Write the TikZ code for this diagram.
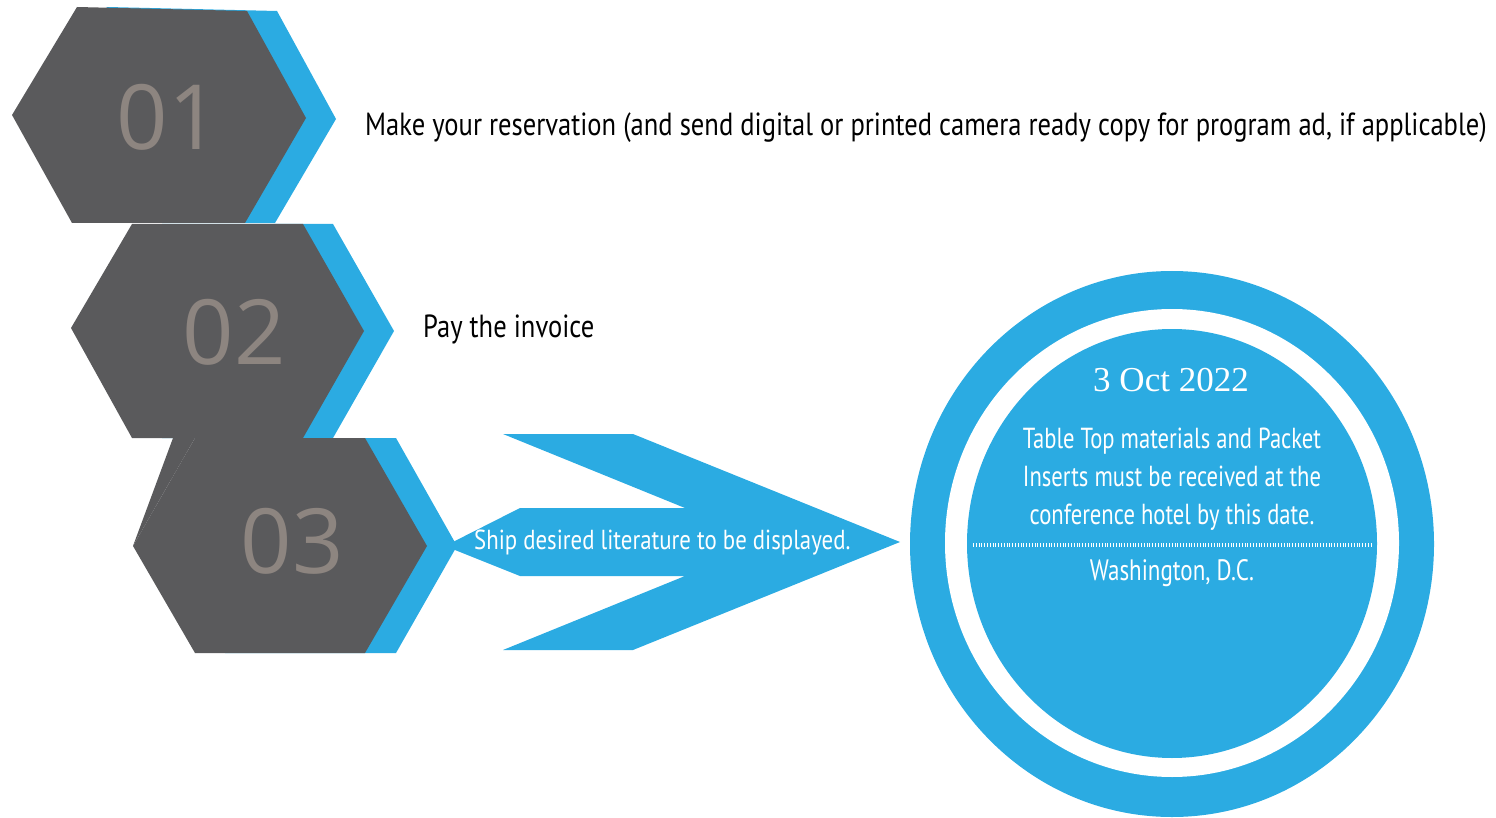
\documentclass[tikz,border=0pt]{standalone}
\usepackage{fontspec}
\setmainfont{PT Sans}
\newfontfamily\cond{PT Sans}[FakeStretch=0.83]
\newfontfamily\condc{PT Sans}[FakeStretch=0.78]
\newfontfamily\digitfont{Open Sans}
\newfontfamily\datefont{Liberation Serif}
\definecolor{hexgrey}{HTML}{5A5A5C}
\definecolor{skyblue}{HTML}{2BABE2}
\definecolor{digitgrey}{HTML}{8D8580}
\tikzset{
  hexdark/.style={fill=hexgrey},
  hexblue/.style={fill=skyblue},
  numtext/.style={anchor=base, text=digitgrey, font=\digitfont\fontsize{90}{90}\selectfont, inner sep=0},
  steptext/.style={anchor=base west, text=black, font=\cond\fontsize{32}{36}\selectfont, inner sep=0},
  circtext/.style={anchor=base, text=white, font=\condc\fontsize{29}{34}\selectfont, inner sep=0},
}
\begin{document}
\begin{tikzpicture}[x=1pt,y=-1pt]
\useasboundingbox (0,0) rectangle (1496,818);
\clip (0,0) rectangle (1496,818);
% hexagon 1
\fill[hexblue] (107,7) -- (277,11) -- (336,119) -- (275,223) -- (102,223) -- (42,115) -- cycle;
\fill[hexdark] (77,7) -- (247,11) -- (306,118) -- (245,223) -- (72,223) -- (12,115) -- cycle;
% hexagon 2
\fill[hexblue] (162,224) -- (333,224) -- (394,331) -- (333,438) -- (162,438) -- (101,328) -- cycle;
\fill[hexdark] (132,224) -- (303,224) -- (364,331) -- (303,438) -- (132,438) -- (71,328) -- cycle;
% hexagon 3
\fill[hexblue] (225,438) -- (396,438) -- (457,546) -- (396,653) -- (225,653) -- (163,546) -- cycle;
\fill[hexdark] (173,438) -- (195,438) -- (133,546) -- cycle;
\fill[hexdark] (195,438) -- (365,438) -- (427,546) -- (365,653) -- (195,653) -- (133,546) -- cycle;
% arrow
\fill[hexblue] (503,434) -- (633,434) -- (900,542) -- (633,650) -- (503,650) -- (685,576) -- (520,576) -- (445,546) -- (520,508) -- (685,508) -- cycle;
% circle
\fill[skyblue] (1172,544) ellipse [x radius=262, y radius=273];
\fill[white] (1172,543) ellipse [x radius=227, y radius=234];
\fill[skyblue] (1172,543.5) ellipse [x radius=205, y radius=214.5];
\draw[white, line width=3.5, dash pattern=on 1 off 1.8] (973,545) -- (1373,545);
% numbers
\node[numtext] (n1) at (168,150) {01};
\node[numtext] (n2) at (234,364) {02};
\node[numtext] (n3) at (292,573) {03};
% step texts
\node[steptext] (s1) at (365,136) {Make your reservation (and send digital or printed camera ready copy for program ad, if applicable)};
\node[steptext] (s2) at (423,337) {Pay the invoice};
\node[steptext, text=white, font=\cond\fontsize{27.5}{30}\selectfont] (s3) at (474,549) {Ship desired literature to be displayed.};
% circle texts
\node[anchor=base, text=white, font=\datefont\fontsize{35}{38}\selectfont, inner sep=0] (date) at (1171,391) {3 Oct 2022};
\node[circtext] (c1) at (1172,448) {Table Top materials and Packet};
\node[circtext] (c2) at (1172,486.5) {Inserts must be received at the};
\node[circtext] (c3) at (1172,524) {conference hotel by this date.};
\node[circtext, font=\condc\fontsize{29.5}{34}\selectfont] (c4) at (1172,580) {Washington, D.C.};
\end{tikzpicture}
\end{document}
